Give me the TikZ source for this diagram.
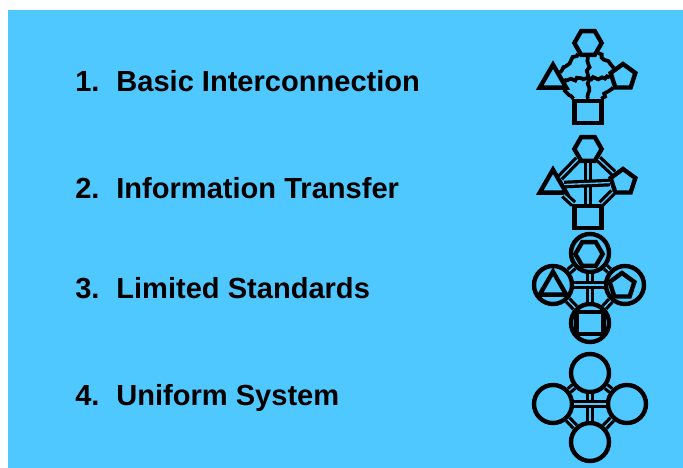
\documentclass[tikz,border=0pt]{standalone}
\usepackage{fontspec}
\setmainfont{Liberation Sans}
\usetikzlibrary{shapes.geometric,decorations.pathmorphing}
\definecolor{skyblue}{HTML}{4FC8FF}
\begin{document}
\begin{tikzpicture}[x=0.75pt,y=-0.75pt,
  label/.style={anchor=base west,inner sep=0pt,font=\fontsize{21.8}{24}\selectfont\bfseries},
  shp/.style={draw=black,fill=skyblue,line width=3.3pt,inner sep=0pt},
  hex/.style={shp,regular polygon,regular polygon sides=6,minimum size=20.5pt},
  tri/.style={shp,regular polygon,regular polygon sides=3,minimum size=23pt},
  pent/.style={shp,regular polygon,regular polygon sides=5,minimum size=19.5pt},
  sq/.style={shp,rectangle,minimum width=20.5pt,minimum height=16.5pt},
  ring/.style={shp,circle,minimum size=28.5pt},
  wig/.style={line width=2.8pt,decorate,decoration={random steps,segment length=2.5pt,amplitude=1.2pt}},
  dbl/.style={line width=2.4pt,double=skyblue,double distance=1pt}]
  \useasboundingbox (0,0) rectangle (683,468);
  \fill[white] (0,0) rectangle (683,468);
  \fill[skyblue] (8,10) rectangle (683,468);

  \node[label] (L1) at (75,91) {1.\hspace{0.58em}Basic Interconnection};
  \node[label] (L2) at (75,198) {2.\hspace{0.58em}Information Transfer};
  \node[label] (L3) at (75,298) {3.\hspace{0.58em}Limited Standards};
  \node[label] (L4) at (75,405) {4.\hspace{0.58em}Uniform System};

  % first row
  \node[hex] (H1) at (588,43) {};
  \node[tri] (T1) at (553,80) {};
  \node[pent] (P1) at (623,77) {};
  \node[sq] (S1) at (588,112) {};
  \draw[wig] (H1) -- (T1);
  \draw[wig] (H1) -- (P1);
  \draw[wig] (H1) -- (S1);
  \draw[wig] (T1) -- (P1);
  \draw[wig] (T1) -- (S1);
  \draw[wig] (P1) -- (S1);

  % second row
  \node[hex] (H2) at (588,149) {};
  \node[tri] (T2) at (553,185) {};
  \node[pent] (P2) at (623,182) {};
  \node[sq] (S2) at (588,217) {};
  \draw[dbl] (H2) -- (T2);
  \draw[dbl] (H2) -- (P2);
  \draw[dbl] (H2) -- (S2);
  \draw[dbl] (T2) -- (P2);
  \draw[dbl] (T2) -- (S2);
  \draw[dbl] (P2) -- (S2);

  % third row
  \node[ring] (A3) at (590,253) {};
  \node[ring] (B3) at (553,285) {};
  \node[ring] (C3) at (625,285) {};
  \node[ring] (D3) at (590,323) {};
  \node[hex] (H3) at (589,254) {};
  \node[tri] (T3) at (553,287) {};
  \node[pent] (P3) at (622,286) {};
  \node[sq] (S3) at (590,323) {};
  \draw[dbl] (A3) -- (B3);
  \draw[dbl] (A3) -- (C3);
  \draw[dbl] (A3) -- (D3);
  \draw[dbl] (B3) -- (C3);
  \draw[dbl] (B3) -- (D3);
  \draw[dbl] (C3) -- (D3);

  % fourth row
  \node[ring] (A4) at (590,373) {};
  \node[ring] (B4) at (553,404) {};
  \node[ring] (C4) at (627,404) {};
  \node[ring] (D4) at (590,442) {};
  \draw[dbl] (A4) -- (B4);
  \draw[dbl] (A4) -- (C4);
  \draw[dbl] (A4) -- (D4);
  \draw[dbl] (B4) -- (C4);
  \draw[dbl] (B4) -- (D4);
  \draw[dbl] (C4) -- (D4);
\end{tikzpicture}
\end{document}
